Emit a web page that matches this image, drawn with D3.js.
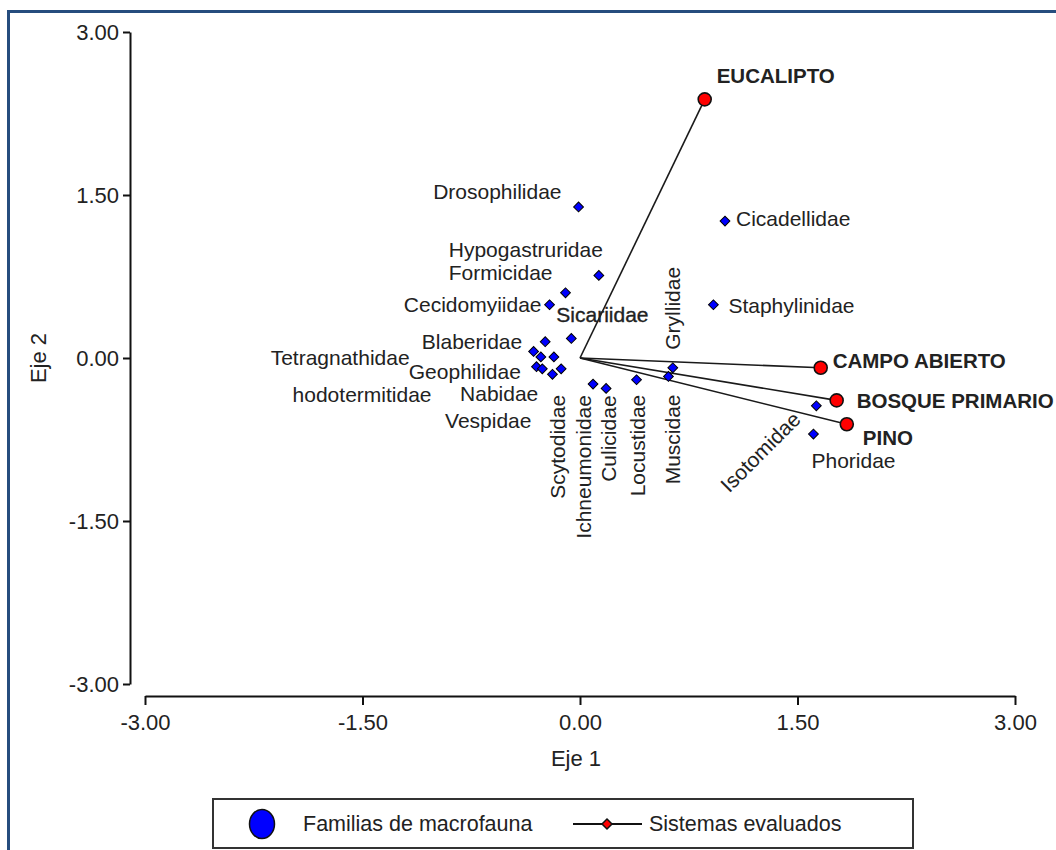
<!DOCTYPE html>
<html>
<head>
<meta charset="utf-8">
<script src="https://cdn.jsdelivr.net/npm/d3@7"></script>
<style>
  html, body { margin: 0; padding: 0; background: #fff; }
  svg { display: block; }
  text { font-family: "Liberation Sans", Arial, sans-serif; fill: #222; }
</style>
</head>
<body>
<svg id="chart" width="1056" height="850"></svg>
<script>
// ---------- DATA ----------
const familyNames = ["Drosophilidae","Cicadellidae","Hypogastruridae","Formicidae","Cecidomyiidae",
  "Staphylinidae","Sicariidae","Blaberidae","Tetragnathidae","Geophilidae","","hodotermitidae",
  "Nabidae","Vespidae","Scytodidae","Ichneumonidae","Culicidae","Locustidae","Muscidae",
  "Gryllidae","Isotomidae","Phoridae"];
const familyEje1 = [-0.01, 1.00, 0.13, -0.10, -0.21, 0.92, -0.06, -0.24, -0.32, -0.27, -0.18, -0.30,
  -0.26, -0.19, -0.13, 0.09, 0.18, 0.39, 0.61, 0.64, 1.63, 1.61];
const familyEje2 = [1.39, 1.26, 0.76, 0.60, 0.49, 0.49, 0.18, 0.15, 0.06, 0.01, 0.01, -0.08,
  -0.10, -0.15, -0.10, -0.24, -0.28, -0.20, -0.17, -0.09, -0.44, -0.70];

const systemNames = ["EUCALIPTO","CAMPO ABIERTO","BOSQUE PRIMARIO","PINO"];
const systemEje1 = [0.86, 1.66, 1.77, 1.84];
const systemEje2 = [2.38, -0.09, -0.39, -0.61];

const tickValues = [-3.00, -1.50, 0.00, 1.50, 3.00];
const axisTitles = ["Eje 1", "Eje 2"];
const legendLabels = ["Familias de macrofauna", "Sistemas evaluados"];

// ---------- LAYOUT (label placement, pixels relative to point) ----------
const famLabelLayout = {
  "Drosophilidae":  {dx:-17, dy:-15, anchor:"end"},
  "Cicadellidae":   {dx:11, dy:-3, anchor:"start"},
  "Hypogastruridae":{dx:4, dy:-26, anchor:"end"},
  "Formicidae":     {dx:-13, dy:-20, anchor:"end"},
  "Cecidomyiidae":  {dx:-8, dy:0, anchor:"end"},
  "Staphylinidae":  {dx:15, dy:1, anchor:"start"},
  "Sicariidae":     {dx:-15, dy:-24, anchor:"start", heavy:true},
  "Blaberidae":     {dx:-23, dy:0, anchor:"end"},
  "Tetragnathidae": {dx:-124, dy:6, anchor:"end"},
  "Geophilidae":    {dx:-20, dy:15, anchor:"end"},
  "hodotermitidae": {dx:-105, dy:28, anchor:"end"},
  "Nabidae":        {dx:-4, dy:25, anchor:"end"},
  "Vespidae":       {dx:-21, dy:46, anchor:"end"},
  "Scytodidae":     {dx:-4, dy:26, anchor:"end", rot:-90},
  "Ichneumonidae":  {dx:-10, dy:11, anchor:"end", rot:-90},
  "Culicidae":      {dx:2, dy:7, anchor:"end", rot:-90},
  "Locustidae":     {dx:1, dy:15, anchor:"end", rot:-90},
  "Muscidae":       {dx:4, dy:18, anchor:"end", rot:-90},
  "Gryllidae":      {dx:0, dy:-18, anchor:"start", rot:-90},
  "Isotomidae":     {dx:-56, dy:46, anchor:"middle", rot:-45},
  "Phoridae":       {dx:-2, dy:26, anchor:"start"}
};
const sysLabelLayout = {
  "EUCALIPTO":       {dx:12, dy:-24},
  "CAMPO ABIERTO":   {dx:12, dy:-7},
  "BOSQUE PRIMARIO": {dx:20, dy:0},
  "PINO":            {dx:16, dy:13}
};

// ---------- DRAW ----------
const svg = d3.select("#chart");
const W = 1056, H = 850;
const FS = "21px";

// frame
svg.append("rect").attr("x", 8.5).attr("y", 11.5).attr("width", W + 20).attr("height", H + 20)
  .attr("fill", "none").attr("stroke", "#264d7e").attr("stroke-width", 3);

const x = d3.scaleLinear().domain([-3, 3]).range([145, 1015]);
const y = d3.scaleLinear().domain([-3, 3]).range([684, 32]);
const fmt = d => d.toFixed(2);

// Y axis
const gy = svg.append("g").attr("transform", "translate(130,0)")
  .call(d3.axisLeft(y).tickValues(tickValues).tickFormat(fmt).tickSize(7).tickSizeOuter(0).tickPadding(4));
// X axis
const gx = svg.append("g").attr("transform", "translate(0,696)")
  .call(d3.axisBottom(x).tickValues(tickValues).tickFormat(fmt).tickSize(9).tickSizeOuter(0).tickPadding(6));
[gx, gy].forEach(g => {
  g.selectAll("path.domain").attr("stroke", "#111").attr("stroke-width", 2);
  g.selectAll(".tick line").attr("stroke", "#111").attr("stroke-width", 2);
  g.selectAll(".tick text").style("font-family", "'Liberation Sans', Arial, sans-serif")
    .style("font-size", "22px").attr("fill", "#333");
});
gx.selectAll(".tick text").attr("dy", "0.85em");

// axis titles
svg.append("text").attr("x", x(0) - 4).attr("y", 758).attr("text-anchor", "middle")
  .attr("dominant-baseline", "central").style("font-size", "22px").attr("fill", "#333").text(axisTitles[0]);
svg.append("text").attr("transform", `translate(38,${y(0)}) rotate(-90)`).attr("text-anchor", "middle")
  .attr("dominant-baseline", "central").style("font-size", "22px").attr("fill", "#333").text(axisTitles[1]);

// system vectors
const systems = systemNames.map((n, i) => ({name: n, x: systemEje1[i], y: systemEje2[i]}));
svg.append("g").selectAll("line").data(systems).join("line")
  .attr("x1", x(0)).attr("y1", y(0)).attr("x2", d => x(d.x)).attr("y2", d => y(d.y))
  .attr("stroke", "#1a1a1a").attr("stroke-width", 1.6);

// family points
const families = familyNames.map((n, i) => ({name: n, x: familyEje1[i], y: familyEje2[i]}));
const diamond = d3.symbol().type(d3.symbolSquare).size(48);
svg.append("g").selectAll("path").data(families).join("path")
  .attr("d", diamond)
  .attr("transform", d => `translate(${x(d.x)},${y(d.y)}) rotate(45)`)
  .attr("fill", "#0000ff").attr("stroke", "#000").attr("stroke-width", 1);

// family labels
const flg = svg.append("g");
families.filter(d => d.name).forEach(d => {
  const L = famLabelLayout[d.name];
  const px = x(d.x) + L.dx, py = y(d.y) + L.dy;
  const t = flg.append("text")
    .attr("transform", `translate(${px},${py})` + (L.rot ? ` rotate(${L.rot})` : ""))
    .attr("text-anchor", L.anchor).attr("dominant-baseline", "central")
    .style("font-size", FS).text(d.name);
  if (L.heavy) t.attr("stroke", "#222").attr("stroke-width", 0.35);
});

// system points
svg.append("g").selectAll("circle").data(systems).join("circle")
  .attr("cx", d => x(d.x)).attr("cy", d => y(d.y)).attr("r", 6.5)
  .attr("fill", "#ff0000").attr("stroke", "#111").attr("stroke-width", 1.6);
svg.append("g").selectAll("text").data(systems).join("text")
  .attr("x", d => x(d.x) + sysLabelLayout[d.name].dx)
  .attr("y", d => y(d.y) + sysLabelLayout[d.name].dy)
  .attr("dominant-baseline", "central")
  .style("font-size", "20.5px").style("font-weight", "bold").text(d => d.name);

// legend
const lg = svg.append("g");
lg.append("rect").attr("x", 213).attr("y", 799).attr("width", 700).attr("height", 49)
  .attr("fill", "#fff").attr("stroke", "#333").attr("stroke-width", 2);
lg.append("ellipse").attr("cx", 262).attr("cy", 824).attr("rx", 12.5).attr("ry", 14.5)
  .attr("fill", "#0000ff").attr("stroke", "#111").attr("stroke-width", 1.5);
lg.append("text").attr("x", 303).attr("y", 824).attr("dominant-baseline", "central")
  .style("font-size", "21.5px").text(legendLabels[0]);
lg.append("line").attr("x1", 573).attr("x2", 642).attr("y1", 824).attr("y2", 824)
  .attr("stroke", "#111").attr("stroke-width", 2);
lg.append("path").attr("d", d3.symbol().type(d3.symbolSquare).size(50))
  .attr("transform", "translate(607,824) rotate(45)")
  .attr("fill", "#ff0000").attr("stroke", "#111").attr("stroke-width", 1.5);
lg.append("text").attr("x", 649).attr("y", 824).attr("dominant-baseline", "central")
  .style("font-size", "21.5px").text(legendLabels[1]);
</script>
</body>
</html>
